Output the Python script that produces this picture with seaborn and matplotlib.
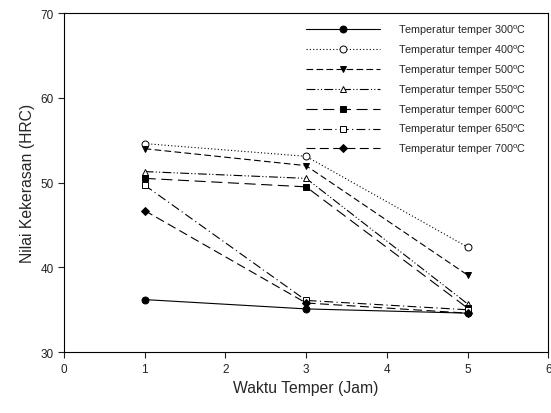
import matplotlib
matplotlib.use("Agg")
import matplotlib.pyplot as plt
import seaborn as sns
import pandas as pd

sns.set_style("ticks")
plt.rcParams['font.family'] = ['Liberation Sans', 'DejaVu Sans']
plt.rcParams['mathtext.fontset'] = 'custom'
plt.rcParams['mathtext.rm'] = 'Liberation Sans'

waktu = [1, 3, 5]
temps = ["300", "400", "500", "550", "600", "650", "700"]
t300 = [36.2, 35.1, 34.6]
t400 = [54.6, 53.1, 42.4]
t500 = [54.0, 52.0, 39.1]
t550 = [51.3, 50.5, 35.7]
t600 = [50.5, 49.5, 35.2]
t650 = [49.7, 36.1, 35.0]
t700 = [46.7, 35.8, 34.6]
values = [t300, t400, t500, t550, t600, t650, t700]

styles = [
    dict(marker='o', mfc='black', dashes=None),
    dict(marker='o', mfc='white', dashes=(1, 2)),
    dict(marker='v', mfc='black', dashes=(6, 3)),
    dict(marker='^', mfc='white', dashes=(8, 2, 1, 2, 1, 2)),
    dict(marker='s', mfc='black', dashes=(10, 5)),
    dict(marker='s', mfc='white', dashes=(8, 3, 1, 3)),
    dict(marker='D', mfc='black', dashes=(8, 4)),
]

fig = plt.figure(figsize=(5.51, 4.14), dpi=100)
ax = fig.add_axes([0.116, 0.147, 0.879, 0.819])

for t, v, s in zip(temps, values, styles):
    df = pd.DataFrame({"Waktu": waktu, "HRC": v})
    sns.lineplot(data=df, x="Waktu", y="HRC", ax=ax, color='black', lw=0.8,
                 marker=s['marker'], markersize=5 if s['marker'] != 'D' else 4.5,
                 markerfacecolor=s['mfc'], markeredgecolor='black', markeredgewidth=0.7,
                 label="Temperatur temper " + t + r"$^{\mathrm{o}}$C")
    l = ax.lines[-1]
    if s['dashes'] is not None:
        l.set_dashes(s['dashes'])

ax.set_xlim(0, 6)
ax.set_ylim(30, 70)
ax.set_xticks(range(0, 7))
ax.set_yticks(range(30, 71, 10))
ax.set_xlabel("Waktu Temper (Jam)", fontsize=11.3)
ax.set_ylabel("Nilai Kekerasan (HRC)", fontsize=11.3)
ax.tick_params(labelsize=8.5, direction='out', length=4, width=0.8, colors='#222222')
for sp in ax.spines.values():
    sp.set_visible(True)
    sp.set_linewidth(0.8)
    sp.set_color('black')

leg = ax.legend(loc='upper right', frameon=False, fontsize=7.8, handlelength=6.9,
                handletextpad=1.6, labelspacing=0.5, borderaxespad=0,
                bbox_to_anchor=(0.963, 0.984))

fig.savefig("out.png", dpi=100)
